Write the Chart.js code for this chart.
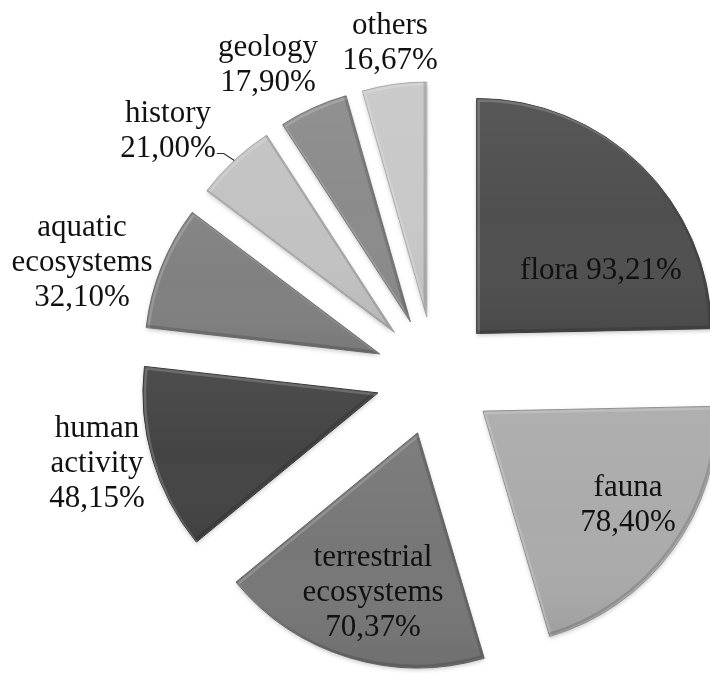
<!DOCTYPE html>
<html>
<head>
<meta charset="utf-8">
<script src="https://cdn.jsdelivr.net/npm/chart.js@4.4.1/dist/chart.umd.min.js"></script>
<style>
  html, body { margin: 0; padding: 0; background: #ffffff; }
  #wrap { width: 710px; height: 673px; }
</style>
</head>
<body>
<div id="wrap"><canvas id="pie" width="710" height="673"></canvas></div>
<script>
// Topics mentioned (% of respondents; multiple answers allowed)
const categories = ['flora', 'fauna', 'terrestrial ecosystems', 'human activity',
                    'aquatic ecosystems', 'history', 'geology', 'others'];
const shares = [93.21, 78.40, 70.37, 48.15, 32.10, 21.00, 17.90, 16.67];

// Slice fills and outlines
const sliceColors = ['#4f4f4f', '#ababab', '#777777', '#444444', '#808080', '#c2c2c2', '#8b8b8b', '#c8c8c8'];
const edgeColors  = ['#3c3c3c', '#909090', '#616161', '#333333', '#6a6a6a', '#a6a6a6', '#737373', '#aaaaaa'];

// Label block centres, relative to the pie centre (px)
const labelOffsets = [[166, -105], [193, 129], [-62, 217], [-338, 88],
                      [-353, -113], [-267, -245], [-167, -311], [-45, -333]];
const inlineLabel = [true, false, false, false, false, false, false, false];
const leaderLine  = [false, false, false, false, false, true, false, false];

const PIE_RADIUS = 235;   // px
const EXPLODE = 59.5;     // distance each slice is pulled out
const LINE_H = 35;
const LABEL_FONT = '31px "Liberation Serif", "Times New Roman", serif';

const fmt = v => v.toFixed(2).replace('.', ',') + '%';

function pieCentre(chart) {
  const a = chart.chartArea;
  return { x: (a.left + a.right) / 2, y: (a.top + a.bottom) / 2 };
}

function slicePath(ctx, arc) {
  ctx.beginPath();
  ctx.moveTo(arc.x, arc.y);
  ctx.arc(arc.x, arc.y, arc.outerRadius, arc.startAngle, arc.endAngle);
  ctx.closePath();
}

function sliceBounds(arc) {
  let top = arc.y, bottom = arc.y;
  for (let i = 0; i <= 40; i++) {
    const t = arc.startAngle + (arc.endAngle - arc.startAngle) * i / 40;
    const y = arc.y + arc.outerRadius * Math.sin(t);
    top = Math.min(top, y); bottom = Math.max(bottom, y);
  }
  return { top, bottom };
}

// Pull every slice outward along its bisector
const explodePlugin = {
  id: 'explodeSlices',
  afterDatasetUpdate(chart, args) {
    const c = pieCentre(chart);
    chart.getDatasetMeta(args.index).data.forEach(arc => {
      const mid = (arc.startAngle + arc.endAngle) / 2;
      arc.x = c.x + Math.cos(mid) * EXPLODE;
      arc.y = c.y + Math.sin(mid) * EXPLODE;
    });
  }
};

// Soft drop shadow beneath the slices, bevel shading on top of them
const shadePlugin = {
  id: 'sliceShade',
  beforeDatasetsDraw(chart) {
    const ctx = chart.ctx;
    chart.getDatasetMeta(0).data.forEach(arc => {
      ctx.save();
      ctx.shadowColor = 'rgba(0,0,0,0.22)';
      ctx.shadowBlur = 4;
      ctx.shadowOffsetY = 2;
      ctx.fillStyle = '#ffffff';
      slicePath(ctx, arc);
      ctx.fill();
      ctx.restore();
    });
  },
  afterDatasetsDraw(chart) {
    const ctx = chart.ctx;
    chart.getDatasetMeta(0).data.forEach(arc => {
      const b = sliceBounds(arc);
      ctx.save();
      slicePath(ctx, arc);
      ctx.clip();
      const g = ctx.createLinearGradient(0, b.top, 0, b.bottom);
      g.addColorStop(0, 'rgba(255,255,255,0.05)');
      g.addColorStop(0.5, 'rgba(255,255,255,0)');
      g.addColorStop(1, 'rgba(0,0,0,0.07)');
      ctx.fillStyle = g;
      ctx.fillRect(arc.x - arc.outerRadius - 2, b.top - 2, arc.outerRadius * 2 + 4, b.bottom - b.top + 4);
      ctx.lineWidth = 2.5;
      ctx.translate(2, 2);
      slicePath(ctx, arc);
      ctx.strokeStyle = 'rgba(255,255,255,0.18)';
      ctx.stroke();
      ctx.translate(-4, -4);
      slicePath(ctx, arc);
      ctx.strokeStyle = 'rgba(0,0,0,0.14)';
      ctx.stroke();
      ctx.restore();
    });
  }
};

// Category / value labels
const labelPlugin = {
  id: 'sliceLabels',
  afterDraw(chart) {
    const ctx = chart.ctx;
    const c = pieCentre(chart);
    const arcs = chart.getDatasetMeta(0).data;
    ctx.save();
    ctx.font = LABEL_FONT;
    ctx.fillStyle = '#111111';
    ctx.textAlign = 'center';
    ctx.textBaseline = 'middle';
    categories.forEach((name, i) => {
      const lines = inlineLabel[i] ? [name + ' ' + fmt(shares[i])]
                                   : name.split(' ').concat([fmt(shares[i])]);
      const cx = c.x + labelOffsets[i][0];
      const cy = c.y + labelOffsets[i][1];
      lines.forEach((ln, k) => {
        ctx.fillText(ln, cx, cy + (k - (lines.length - 1) / 2) * LINE_H);
      });
      if (leaderLine[i]) {
        const last = lines[lines.length - 1];
        const lx = cx + ctx.measureText(last).width / 2 + 1;
        const ly = cy + ((lines.length - 1) / 2) * LINE_H + 5;
        const arc = arcs[i];
        const mid = (arc.startAngle + arc.endAngle) / 2;
        const ex = arc.x + Math.cos(mid) * arc.outerRadius;
        const ey = arc.y + Math.sin(mid) * arc.outerRadius;
        ctx.beginPath();
        ctx.moveTo(lx, ly);
        ctx.lineTo(lx + 7, ly);
        ctx.lineTo(ex, ey);
        ctx.strokeStyle = '#333333';
        ctx.lineWidth = 1.2;
        ctx.stroke();
      }
    });
    ctx.restore();
  }
};

new Chart(document.getElementById('pie'), {
  type: 'pie',
  data: {
    labels: categories,
    datasets: [{
      data: shares,
      backgroundColor: sliceColors,
      borderColor: edgeColors,
      borderWidth: 1,
      clip: false
    }]
  },
  options: {
    responsive: false,
    animation: false,
    events: [],
    radius: PIE_RADIUS,
    rotation: 0,
    layout: { padding: { left: 160, top: 79, right: 0, bottom: 0 } },
    plugins: {
      legend: { display: false },
      tooltip: { enabled: false }
    }
  },
  plugins: [explodePlugin, shadePlugin, labelPlugin]
});
</script>
</body>
</html>
